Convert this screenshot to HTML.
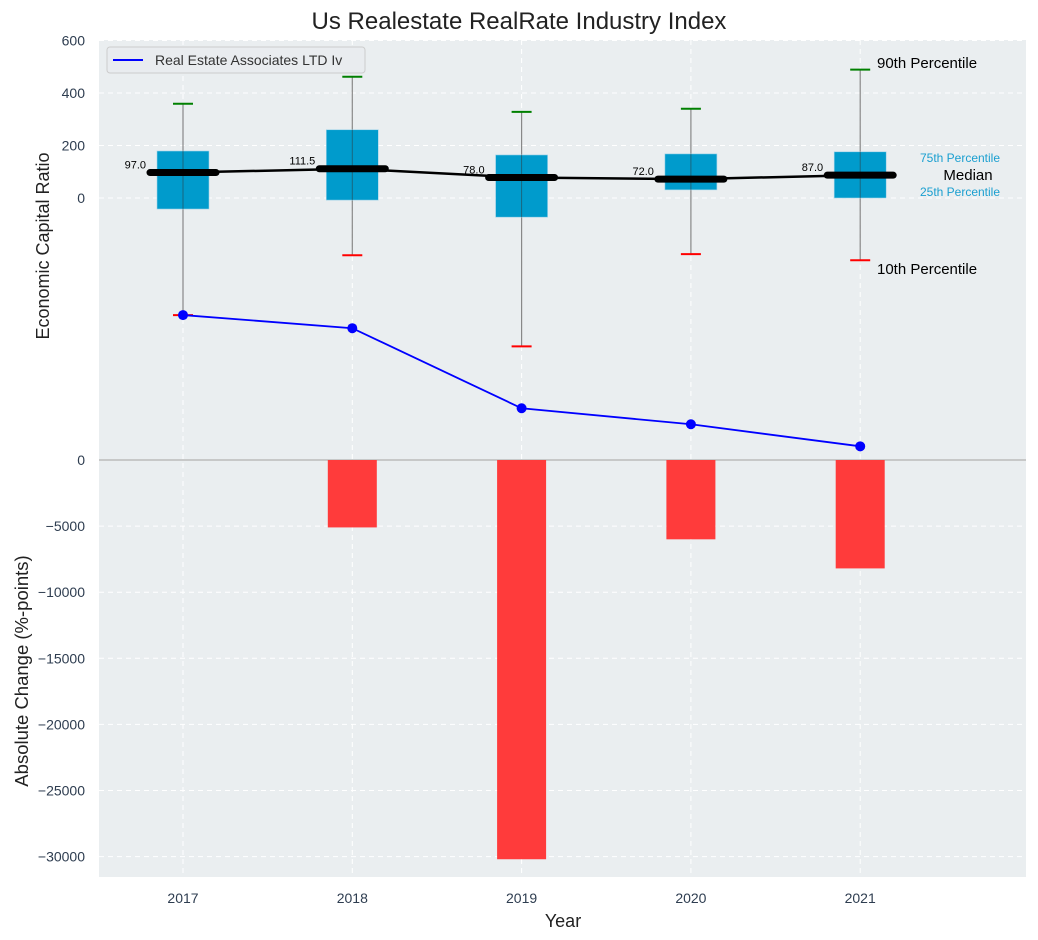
<!DOCTYPE html>
<html><head><meta charset="utf-8"><style>
body{margin:0;background:#fff;}
svg{display:block;font-family:"Liberation Sans","DejaVu Sans",sans-serif;}
</style></head><body>
<svg id="chart" width="1038" height="940" viewBox="0 0 1038 940">
<rect x="99" y="40" width="927" height="837" fill="#eaeef0"/>
<text x="519" y="29" font-size="24" text-anchor="middle" fill="#222">Us Realestate RealRate Industry Index</text>
<text x="563" y="927" font-size="18" text-anchor="middle" fill="#222">Year</text>
<text transform="translate(49,246) rotate(-90)" font-size="18" text-anchor="middle" fill="#222">Economic Capital Ratio</text>
<text transform="translate(28,671) rotate(-90)" font-size="18.5" text-anchor="middle" fill="#222">Absolute Change (%-points)</text>
<g id="grid"></g><g id="marks"></g><g id="ticks"></g>
<g>
<rect x="107" y="47" width="258" height="26" rx="3" fill="#e9ecef" stroke="#ccc"/>
<line x1="113" y1="60" x2="143" y2="60" stroke="#0000ff" stroke-width="2"/>
<text x="155" y="65" font-size="14" fill="#333">Real Estate Associates LTD Iv</text>
</g>
<text x="877" y="68" font-size="15" fill="#000">90th Percentile</text>
<text x="877" y="274" font-size="15" fill="#000">10th Percentile</text>
<text x="960" y="162" font-size="12" fill="#1a9fd0" text-anchor="middle">75th Percentile</text>
<text x="968" y="180" font-size="15" fill="#000" text-anchor="middle">Median</text>
<text x="960" y="196" font-size="12" fill="#1a9fd0" text-anchor="middle">25th Percentile</text>
</svg>
<script>
const years=[2017,2018,2019,2020,2021];
const p10=[-446,-218,-565,-214,-237];
const p25=[-42,-8,-73,31,0];
const medians=[97,111.5,78,72,87];
const p75=[179,260,164,168,176];
const p90=[359,462,328,340,489];
const companyValues=[-446,-496,-801,-862,-946];
const changes=[0,-5100,-30200,-6000,-8200];
const topTicks=[600,400,200,0];
const bottomTicks=[0,-5000,-10000,-15000,-20000,-25000,-30000];
const NS="http://www.w3.org/2000/svg";
const xS=i=>183+i*169.3;
const yTop=v=>198-v*0.2625;
const yBot=v=>460-v*0.01322;
function mk(p,t,a){const e=document.createElementNS(NS,t);for(const k in a)e.setAttribute(k,a[k]);p.appendChild(e);return e;}
const grid=document.getElementById('grid'),marks=document.getElementById('marks'),ticks=document.getElementById('ticks');
years.forEach((y,i)=>{
 const g=mk(grid,'line',{x1:xS(i),x2:xS(i),y1:40,y2:877,stroke:'#fff','stroke-dasharray':'5,4','stroke-width':1});
 
 
 const t=mk(ticks,'text',{x:xS(i),y:903,'font-size':14,'text-anchor':'middle',fill:'#2e3d50'});t.textContent=y;
 
 
});
topTicks.forEach(v=>{
 const g=mk(grid,'line',{x1:99,x2:1026,y1:yTop(v),y2:yTop(v),stroke:'#fff','stroke-dasharray':'5,4'});
 
 
 const t=mk(ticks,'text',{x:85,y:yTop(v)+5,'font-size':14,'text-anchor':'end',fill:'#2e3d50'});t.textContent=v;
 
 
});
bottomTicks.forEach(v=>{
 const g=mk(grid,'line',{x1:99,x2:1026,y1:yBot(v),y2:yBot(v),stroke:v===0?'#bbb':'#fff','stroke-dasharray':v===0?'none':'5,4','stroke-width':v===0?1.5:1});
 
 
 const t=mk(ticks,'text',{x:85,y:yBot(v)+5,'font-size':14,'text-anchor':'end',fill:'#2e3d50'});t.textContent=v<0?'\u2212'+(-v):v;
 
 
});
changes.forEach((v,i)=>{
 if(v===0)return;
 const b=mk(marks,'rect',{x:xS(i)-24.5,y:yBot(0),width:49,height:yBot(v)-yBot(0),fill:'#ff3b3b'});
 
 
});
years.forEach((y,i)=>{
 const x=xS(i);
 const w=mk(marks,'line',{x1:x,x2:x,y1:yTop(p90[i]),y2:yTop(p10[i]),stroke:'#888','stroke-width':1.2});
 
 
 const b=mk(marks,'rect',{x:x-26,y:yTop(p75[i]),width:52,height:yTop(p25[i])-yTop(p75[i]),fill:'#009bcc',stroke:'#9fd3e8','stroke-width':0.6});
 
 
 const w2=mk(marks,'line',{x1:x,x2:x,y1:yTop(p75[i]),y2:yTop(p25[i]),stroke:'#333','stroke-width':1,opacity:0.5});
 
 
 const c1=mk(marks,'line',{x1:x-10,x2:x+10,y1:yTop(p90[i]),y2:yTop(p90[i]),stroke:'#008000','stroke-width':2});
 
 
 const c2=mk(marks,'line',{x1:x-10,x2:x+10,y1:yTop(p10[i]),y2:yTop(p10[i]),stroke:'#ff0000','stroke-width':2});
 
 
});
const ml=mk(marks,'polyline',{points:medians.map((m,i)=>xS(i)+','+yTop(m)).join(' '),fill:'none',stroke:'#000','stroke-width':2.5});


medians.forEach((m,i)=>{
 const x=xS(i);
 const l=mk(marks,'line',{x1:x-33,x2:x+33,y1:yTop(m),y2:yTop(m),stroke:'#000','stroke-width':7,'stroke-linecap':'round'});
 
 
 const t=mk(marks,'text',{x:x-37,y:yTop(m)-4,'font-size':11,'text-anchor':'end',fill:'#000'});t.textContent=m.toFixed(1);
 
 
});
const cl=mk(marks,'polyline',{points:companyValues.map((v,i)=>xS(i)+','+yTop(v)).join(' '),fill:'none',stroke:'#0000ff','stroke-width':1.8});


companyValues.forEach((v,i)=>{
 const p=mk(marks,'circle',{cx:xS(i),cy:yTop(v),r:5,fill:'#0000ff'});
 
 
});
</script>
</body></html>
